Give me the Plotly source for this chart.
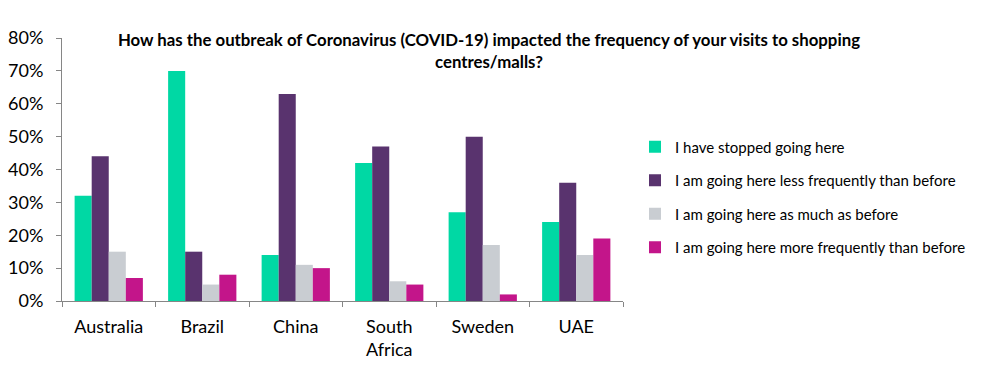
import plotly.graph_objects as go

categories = ["Australia", "Brazil", "China", "South<br>Africa", "Sweden", "UAE"]
series_names = [
    "I have stopped going here",
    "I am going here less frequently than before",
    "I am going here as much as before",
    "I am going here more frequently than before",
]
stopped = [32, 70, 14, 42, 27, 24]
less_freq = [44, 15, 63, 47, 50, 36]
as_much = [15, 5, 11, 6, 17, 14]
more_freq = [7, 8, 10, 5, 2, 19]
colors = ["#00D8A4", "#59336E", "#C9CDD2", "#C3158A"]
tick_vals = [0, 10, 20, 30, 40, 50, 60, 70, 80]
tick_text = ["0%", "10%", "20%", "30%", "40%", "50%", "60%", "70%", "80%"]

fig = go.Figure()
for i, (name, vals) in enumerate(zip(series_names, [stopped, less_freq, as_much, more_freq])):
    fig.add_trace(go.Bar(
        x=categories, y=vals, name=name, marker_color=colors[i],
        marker_line_width=0, legendgroup=f"g{i}",
    ))

font_family = "Lato, 'Open Sans', sans-serif"
fig.update_layout(
    width=978, height=359,
    margin=dict(l=54, r=363, t=30, b=66),
    paper_bgcolor="white", plot_bgcolor="white",
    barmode="group", bargap=0.27, bargroupgap=0,
    font=dict(family=font_family, color="#000000"),
    title=dict(
        text="<b>How has the outbreak of Coronavirus (COVID-19) impacted the frequency of your visits to shopping<br>centres/malls?</b>",
        font=dict(size=16.8, family=font_family, color="#000000"),
        xref="container", x=0.4918, xanchor="center",
        yref="container", y=1 - 38 / 359, yanchor="top",
    ),
    legend=dict(
        x=1.0214, y=0.395, xanchor="left", yanchor="middle",
        font=dict(size=15, family=font_family, color="#000000"),
        tracegroupgap=11, itemwidth=30,
        bgcolor="rgba(0,0,0,0)",
    ),
    showlegend=True,
)
fig.update_yaxes(
    range=[0, 80], tickvals=tick_vals, ticktext=tick_text,
    showgrid=False, zeroline=False, automargin=False,
    showline=True, linecolor="#868686", linewidth=1,
    ticks="outside", ticklen=5, tickcolor="#868686",
    ticklabelstandoff=9,
    tickfont=dict(size=18, family=font_family, color="#000000"),
)
fig.update_xaxes(
    showgrid=False, showline=True, linecolor="#868686", linewidth=1,
    automargin=False,
    ticks="outside", ticklen=5, tickcolor="#868686", tickson="boundaries",
    ticklabelstandoff=9,
    tickfont=dict(size=18, family=font_family, color="#000000"),
)

fig.write_html("out.html")
